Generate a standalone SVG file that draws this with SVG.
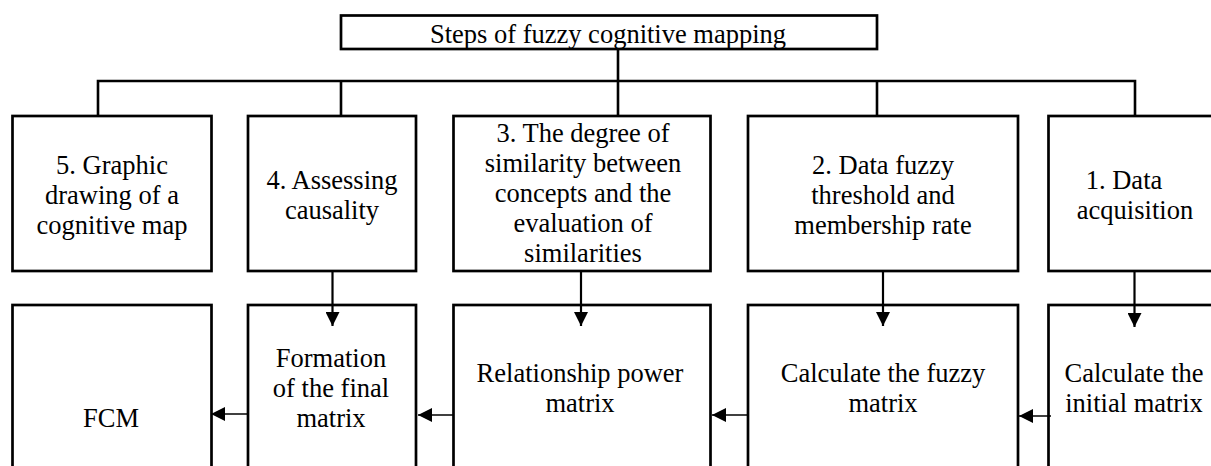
<svg xmlns="http://www.w3.org/2000/svg" width="1211" height="466" viewBox="0 0 1211 466">
<style>
.box{fill:#fff;stroke:#000;stroke-width:2.7}
.t{font-family:"Liberation Serif","Times New Roman",serif;font-size:26.5px;fill:#000;text-anchor:middle}
.ln{fill:none;stroke:#000;stroke-width:2.6}
.ar{fill:none;stroke:#000;stroke-width:2.2}
.hr{fill:none;stroke:#000;stroke-width:1.5}
</style>
<defs>
<marker id="ah" markerUnits="userSpaceOnUse" markerWidth="15" markerHeight="14" refX="14" refY="7" orient="auto">
<path d="M0,0 L14,7 L0,14 Z" fill="#000"/>
</marker>
</defs>
<rect x="0" y="0" width="1211" height="466" fill="#fff"/>
<g id="title">
<rect class="box" x="341" y="15.5" width="536" height="33.5"/>
<text class="t" x="608" y="43">Steps of fuzzy cognitive mapping</text>
</g>
<g id="step5">
<rect class="box" x="12.5" y="116" width="199" height="155"/>
<text class="t" x="112" y="174">5. Graphic</text>
<text class="t" x="112" y="204">drawing of a</text>
<text class="t" x="112" y="234">cognitive map</text>
</g>
<g id="step4">
<rect class="box" x="248" y="116" width="168" height="155"/>
<text class="t" x="332" y="189">4. Assessing</text>
<text class="t" x="332" y="219">causality</text>
</g>
<g id="step3">
<rect class="box" x="453.5" y="116" width="257" height="155"/>
<text class="t" x="583" y="142">3. The degree of</text>
<text class="t" x="583" y="172">similarity between</text>
<text class="t" x="583" y="202">concepts and the</text>
<text class="t" x="583" y="232">evaluation of</text>
<text class="t" x="583" y="262">similarities</text>
</g>
<g id="step2">
<rect class="box" x="748" y="116" width="270" height="155"/>
<text class="t" x="883" y="174">2. Data fuzzy</text>
<text class="t" x="883" y="204">threshold and</text>
<text class="t" x="883" y="234">membership rate</text>
</g>
<g id="step1">
<rect class="box" x="1048.5" y="116" width="180" height="155"/>
<text class="t" x="1124" y="189">1. Data</text>
<text class="t" x="1135" y="219">acquisition</text>
</g>
<g id="fcm">
<rect class="box" x="12.5" y="305" width="199" height="200"/>
<text class="t" x="111" y="427">FCM</text>
</g>
<g id="final">
<rect class="box" x="248" y="305" width="168" height="200"/>
<text class="t" x="331" y="367">Formation</text>
<text class="t" x="331" y="397">of the final</text>
<text class="t" x="331" y="427">matrix</text>
</g>
<g id="power">
<rect class="box" x="453.5" y="305" width="257" height="200"/>
<text class="t" x="580" y="382">Relationship power</text>
<text class="t" x="580" y="412">matrix</text>
</g>
<g id="fuzzy">
<rect class="box" x="748" y="305" width="270" height="200"/>
<text class="t" x="883" y="382">Calculate the fuzzy</text>
<text class="t" x="883" y="412">matrix</text>
</g>
<g id="initial">
<rect class="box" x="1048.5" y="305" width="180" height="200"/>
<text class="t" x="1134" y="382">Calculate the</text>
<text class="t" x="1134" y="412">initial matrix</text>
</g>
<g id="connectors">
<path class="ln" d="M618,49 V116 M98,116 V81 H1135 V116 M341,81 V116 M877,81 V116"/>
<path class="ar" d="M332.5,271 V326" marker-end="url(#ah)"/>
<path class="ar" d="M581,271 V326" marker-end="url(#ah)"/>
<path class="ar" d="M883,271 V326" marker-end="url(#ah)"/>
<path class="ar" d="M1134.5,271 V327" marker-end="url(#ah)"/>
<path class="hr" d="M248,414 H211" marker-end="url(#ah)"/>
<path class="hr" d="M453.5,415 H418" marker-end="url(#ah)"/>
<path class="hr" d="M748,415 H712" marker-end="url(#ah)"/>
<path class="hr" d="M1051,416 H1019" marker-end="url(#ah)"/>
</g>
</svg>
